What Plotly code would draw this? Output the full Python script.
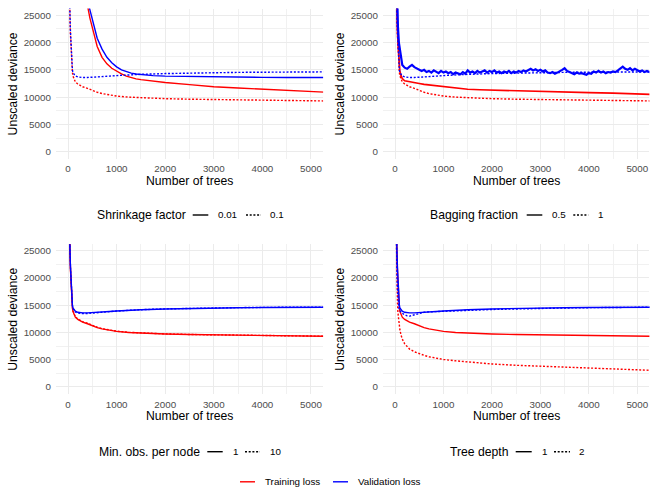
import plotly.graph_objects as go

# ---------------------------------------------------------------------------
# Boosting loss curves (unscaled deviance vs. number of trees)
# ---------------------------------------------------------------------------

# Reference configuration (shrinkage 0.1, bagging 1, min. obs 1, depth 1)
base_x = [0, 10, 20, 30, 40, 50, 60, 70, 80, 90, 100, 125, 150, 200, 250, 300,
          400, 500, 600, 700, 850, 1000, 1250, 1500, 2000, 2500, 3000, 3500,
          4000, 4500, 5000, 5300]
base_train = [45000, 38000, 32000, 27500, 24500, 21500, 19000, 17000, 15500,
              14500, 13900, 13200, 12800, 12400, 12100, 11900, 11600, 11200,
              10900, 10650, 10400, 10200, 10000, 9880, 9720, 9620, 9550, 9490,
              9440, 9390, 9340, 9300]
base_valid = [45500, 38500, 32500, 28000, 25000, 22000, 19500, 17500, 16000,
              15000, 14500, 14100, 13900, 13700, 13620, 13600, 13600, 13630,
              13680, 13740, 13850, 13950, 14080, 14180, 14320, 14420, 14490,
              14540, 14570, 14600, 14620, 14630]

# Shrinkage factor 0.01
slow_x = [0, 100, 200, 300, 400, 450, 500, 550, 600, 700, 800, 900, 1000, 1100,
          1200, 1300, 1400, 1500, 1750, 2000, 2500, 3000, 3500, 4000, 4500,
          5000, 5300]
slow_train = [50000, 44000, 38000, 32000, 26800, 24500, 22600, 20800, 19300,
              17300, 16100, 15300, 14750, 14250, 13850, 13550, 13350, 13200,
              12930, 12680, 12300, 11900, 11680, 11480, 11320, 11100, 10900]
slow_valid = [50500, 44500, 38500, 32500, 27800, 26000, 24100, 22300, 20800,
              18800, 17300, 16300, 15550, 15000, 14650, 14400, 14240, 14130,
              13950, 13850, 13760, 13680, 13640, 13620, 13610, 13610, 13610]

# Bagging fraction 0.5
bag_x = [0, 10, 20, 30, 40, 50, 60, 70, 80, 90, 100, 125, 150, 200, 250, 300,
         400, 500, 600, 700, 850, 1000, 1250, 1500, 1750, 2000, 2500, 3000,
         3500, 4000, 4500, 5000, 5300]
bag_train = [45000, 39000, 33000, 28500, 25000, 22500, 20200, 18300, 16800,
             15600, 14800, 13900, 13400, 13000, 12900, 12800, 12650, 12500,
             12350, 12250, 12200, 12050, 11750, 11450, 11350, 11280, 11120,
             11020, 10920, 10820, 10740, 10660, 10500]
bag_valid_head_x = [0, 20, 40, 60, 80, 100, 125]
bag_valid_head = [46000, 36000, 28000, 23000, 20000, 18500, 16900]
bag_valid_step = 50          # evaluated every 50 trees from 150 onwards
bag_valid_start = 150
bag_valid_tail = [
    15900, 15400, 15200, 15600, 15900, 15500, 15300, 15000, 14800, 15000,
    14600, 14800, 14500, 14900, 14600, 14400, 14800, 14500, 14700, 14400,
    14600, 14200, 14500, 14300, 14200, 14600, 14300, 14900, 14500, 14700,
    14400, 14800, 14500, 14700, 14900, 14500, 14800, 14600, 14900, 14500,
    14700, 14400, 14700, 14500, 14800, 14400, 14700, 14500, 14800, 14600,
    14900, 14700, 15000, 15200, 14900, 15100, 14800, 15000, 14700, 14900,
    14500, 14400, 14600, 14300, 14500, 14700, 15000, 15300, 14800, 14600,
    14400, 14200, 14500, 14300, 14400, 14200, 14100, 14400, 14300, 14700,
    14500, 14800, 14500, 14700, 14400, 14600, 14500, 14700, 14600, 14900,
    15300, 15600, 15200, 15000, 15300, 14900, 15200, 15000, 14700, 14900,
    14600, 14800, 14600, 14700]

# Min. obs. per node 10
mo_train = [45200, 38300, 32300, 27800, 24700, 21700, 19200, 17200, 15700,
            14700, 14050, 13300, 12900, 12480, 12180, 11980, 11700, 11280,
            10960, 10700, 10450, 10240, 10030, 9900, 9740, 9630, 9560, 9500,
            9450, 9400, 9350, 9310]
mo_valid = [45600, 38600, 32600, 28100, 25100, 22100, 19600, 17600, 16000,
            14900, 14400, 13950, 13750, 13550, 13480, 13470, 13490, 13540,
            13610, 13690, 13820, 13930, 14070, 14180, 14330, 14440, 14510,
            14560, 14600, 14630, 14650, 14660]

# Tree depth 2
d2_train = [44000, 36000, 29000, 23500, 18500, 15600, 13700, 12500, 11600,
            11000, 10500, 9500, 8800, 7900, 7350, 6950, 6450, 6100, 5800, 5550,
            5250, 5050, 4800, 4580, 4220, 3980, 3800, 3620, 3450, 3300, 3150,
            3050]
d2_valid = [44500, 36500, 30000, 25000, 21000, 18000, 16000, 15000, 14500,
            14200, 14000, 13700, 13500, 13250, 13050, 13000, 13250, 13580,
            13700, 13780, 13850, 13900, 13980, 14050, 14220, 14340, 14420,
            14490, 14550, 14590, 14620, 14640]

panel_titles = ["Shrinkage factor", "Bagging fraction",
                "Min. obs. per node", "Tree depth"]
panel_levels = [["0.01", "0.1"], ["0.5", "1"], ["1", "10"], ["1", "2"]]
loss_names = ["Training loss", "Validation loss"]

x_ticks = [0, 1000, 2000, 3000, 4000, 5000]
y_ticks = [0, 5000, 10000, 15000, 20000, 25000]

# ---------------------------------------------------------------------------
W, H = 651, 487
RED, BLUE = "#FF0000", "#0000FF"
DOT = "2px,1.7px"
LW = 1.4
FONT = "Liberation Sans, Arial, sans-serif"


def fx(px):
    return px / W


def fy(py):
    return 1 - py / H


bag_valid_x = bag_valid_head_x + [bag_valid_start + bag_valid_step * i
                                  for i in range(len(bag_valid_tail))]
bag_valid = bag_valid_head + bag_valid_tail

# (x, y, colour, dash, width) per panel; solid = first level, dotted = second
panels = [
    [(slow_x, slow_train, RED, "solid", LW), (base_x, base_train, RED, DOT, LW),
     (slow_x, slow_valid, BLUE, "solid", LW), (base_x, base_valid, BLUE, DOT, LW)],
    [(bag_x, bag_train, RED, "solid", 1.7), (base_x, base_train, RED, DOT, LW),
     (bag_valid_x, bag_valid, BLUE, "solid", 2.2),
     (base_x, base_valid, BLUE, DOT, LW)],
    [(base_x, base_train, RED, "solid", LW), (base_x, mo_train, RED, DOT, LW),
     (base_x, base_valid, BLUE, "solid", LW), (base_x, mo_valid, BLUE, DOT, LW)],
    [(base_x, base_train, RED, "solid", LW), (base_x, d2_train, RED, DOT, LW),
     (base_x, base_valid, BLUE, "solid", LW), (base_x, d2_valid, BLUE, DOT, LW)],
]

# panel boxes in pixels: (left, right, top, bottom)
boxes = [(55.9, 323.1, 8.5, 158.5), (382.9, 649.4, 8.5, 158.5),
         (55.9, 323.1, 243.9, 393.8), (382.9, 649.4, 243.9, 393.8)]

fig = go.Figure()
layout = dict(width=W, height=H, margin=dict(l=0, r=0, t=0, b=0),
              paper_bgcolor="white", plot_bgcolor="white",
              showlegend=False, font=dict(family=FONT))

for i, traces in enumerate(panels):
    n = "" if i == 0 else str(i + 1)
    for x, y, c, d, w in traces:
        fig.add_trace(go.Scatter(x=x, y=y, mode="lines",
                                 line=dict(color=c, width=w, dash=d),
                                 xaxis="x" + n, yaxis="y" + n,
                                 hoverinfo="skip"))
    l, r, t, b = boxes[i]
    layout["xaxis" + n] = dict(
        domain=[fx(l), fx(r)], anchor="y" + n, range=[-250, 5250],
        tickvals=x_ticks, ticktext=[str(v) for v in x_ticks],
        showgrid=True, gridcolor="#EBEBEB", gridwidth=1.1,
        minor=dict(dtick=500, tick0=0, showgrid=True, gridcolor="#F1F1F1",
                   gridwidth=0.8),
        zeroline=False, showline=False, ticks="", ticklabelstandoff=3,
        tickfont=dict(size=9.8, color="#4D4D4D", family=FONT))
    layout["yaxis" + n] = dict(
        domain=[fy(b), fy(t)], anchor="x" + n, range=[-1250, 26250],
        tickvals=y_ticks, ticktext=[str(v) for v in y_ticks],
        showgrid=True, gridcolor="#EBEBEB", gridwidth=1.1,
        minor=dict(dtick=2500, tick0=0, showgrid=True, gridcolor="#F1F1F1",
                   gridwidth=0.8),
        zeroline=False, showline=False, ticks="", ticklabelstandoff=4,
        tickfont=dict(size=9.8, color="#4D4D4D", family=FONT))

annotations = []
shapes = []


def text(px, py, s, size, anchor="left", angle=0, color="black"):
    annotations.append(dict(x=fx(px), y=fy(py), xref="paper", yref="paper",
                            text=s, showarrow=False, xanchor=anchor,
                            yanchor="middle", textangle=angle,
                            font=dict(size=size, color=color, family=FONT),
                            borderpad=0))


def key(x0, x1, py, color, dash):
    shapes.append(dict(type="line", xref="paper", yref="paper",
                       x0=fx(x0), x1=fx(x1), y0=fy(py), y1=fy(py),
                       line=dict(color=color, width=LW, dash=dash)))


# axis titles
for i, (l, r, t, b) in enumerate(boxes):
    cx = (l + r) / 2
    text(cx, b + 22.5, "Number of trees", 12.2, anchor="center")
    text(l - 43, (t + b) / 2, "Unscaled deviance", 12.2, anchor="center",
         angle=-90)

# linetype legends under each panel: title, solid key, label, dotted key, label
legend_rows = [
    (215.0, 95.7, (192.7, 208.3), 217.3, (246.0, 261.0), 269.3),
    (215.0, 429.3, (526.7, 542.3), 551.0, (573.3, 588.3), 597.3),
    (451.7, 98.3, (207.3, 222.7), 231.7, (245.0, 260.0), 269.3),
    (451.7, 449.0, (515.7, 531.7), 541.0, (554.0, 570.0), 578.3),
]
for i, (py, tx, k1, l1, k2, l2) in enumerate(legend_rows):
    text(tx, py, panel_titles[i], 12.2)
    key(k1[0], k1[1], py, "black", "solid")
    text(l1, py, panel_levels[i][0], 9.8)
    key(k2[0], k2[1], py, "black", DOT)
    text(l2, py, panel_levels[i][1], 9.8)

# colour legend at the bottom
key(240, 255, 481.8, RED, "solid")
text(264, 481.3, loss_names[0], 9.8)
key(333, 348, 481.8, BLUE, "solid")
text(357, 481.3, loss_names[1], 9.8)

layout["annotations"] = annotations
layout["shapes"] = shapes
fig.update_layout(**layout)
fig.write_html("out.html")
